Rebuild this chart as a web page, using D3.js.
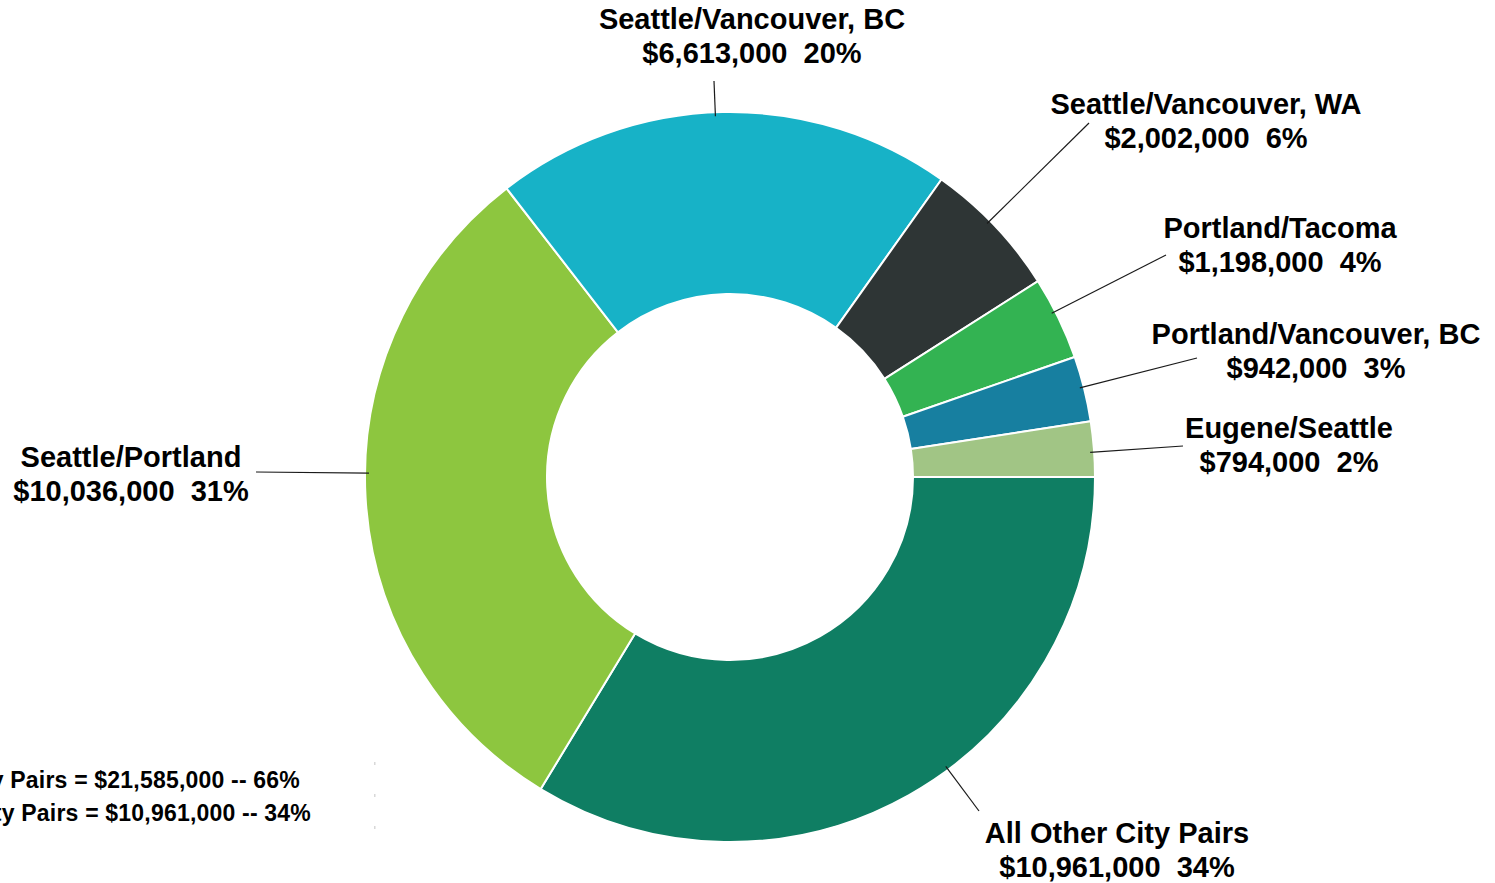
<!DOCTYPE html>
<html>
<head>
<meta charset="utf-8">
<script src="https://cdn.jsdelivr.net/npm/d3@7"></script>
<style>
  body { margin: 0; background: #fff; }
  svg { display: block; }
  text { font-family: "Liberation Sans", Arial, sans-serif; font-weight: bold; fill: #000; }
</style>
</head>
<body>
<div id="chart"></div>
<script>
const width = 1495;
const height = 883;

// data
const categories = [
    'All Other City Pairs',
    'Seattle/Portland',
    'Seattle/Vancouver, BC',
    'Seattle/Vancouver, WA',
    'Portland/Tacoma',
    'Portland/Vancouver, BC',
    'Eugene/Seattle'
];
const values = [10961000, 10036000, 6613000, 2002000, 1198000, 942000, 794000];
const colors = ['#0f7e63', '#8dc63f', '#17b2c7', '#2e3535', '#33b352', '#177fa0', '#a1c585'];
const summaryNames = ['Top 6 City Pairs', 'All Other City Pairs'];

// label placement (center x, first baseline, leader end point)
const labelPos = [
    { x: 1117, y: 843, ex: 979, ey: 811 },
    { x: 131, y: 467, ex: 256, ey: 472 },
    { x: 752, y: 29, ex: 714, ey: 81 },
    { x: 1206, y: 114, ex: 1089, ey: 123 },
    { x: 1280, y: 238, ex: 1166, ey: 255 },
    { x: 1316, y: 344, ex: 1197, ey: 358 },
    { x: 1289, y: 438, ex: 1183, ey: 446 }
];

const center = { x: 730, y: 477 };
const outerR = 365;
const innerR = 183;
const lineGap = 34;

const total = d3.sum(values);
const fmtMoney = d3.format('$,');
const pct = v => Math.round(v / total * 100) + '%';

const rows = categories.map((c, i) => ({ name: c, value: values[i], color: colors[i], pos: labelPos[i] }));

const svg = d3.select('#chart')
    .append('svg')
    .attr('width', width)
    .attr('height', height);

const pie = d3.pie()
    .sort(null)
    .value(d => d.value)
    .startAngle(Math.PI / 2)
    .endAngle(Math.PI / 2 + 2 * Math.PI);

const arc = d3.arc()
    .innerRadius(innerR)
    .outerRadius(outerR);

const g = svg.append('g')
    .attr('transform', `translate(${center.x},${center.y})`);

// slices
g.selectAll('.slice')
    .data(pie(rows))
    .enter()
    .append('path')
    .attr('class', 'slice')
    .attr('d', arc)
    .attr('fill', d => d.data.color)
    .attr('stroke', '#fff')
    .attr('stroke-width', 2)
    .attr('stroke-linejoin', 'round');

// leader lines, pointing at the ring centre
svg.append('g')
    .selectAll('line')
    .data(rows)
    .enter()
    .append('line')
    .attr('x1', d => {
        const dx = d.pos.ex - center.x, dy = d.pos.ey - center.y;
        return center.x + dx / Math.hypot(dx, dy) * (outerR - 4);
    })
    .attr('y1', d => {
        const dx = d.pos.ex - center.x, dy = d.pos.ey - center.y;
        return center.y + dy / Math.hypot(dx, dy) * (outerR - 4);
    })
    .attr('x2', d => d.pos.ex)
    .attr('y2', d => d.pos.ey)
    .attr('stroke', '#1a1a1a')
    .attr('stroke-width', 1.2);

// labels
const labels = svg.append('g')
    .selectAll('text')
    .data(rows)
    .enter()
    .append('text')
    .attr('text-anchor', 'middle')
    .style('font-size', '29px');

labels.append('tspan')
    .attr('x', d => d.pos.x)
    .attr('y', d => d.pos.y)
    .text(d => d.name);

labels.append('tspan')
    .attr('x', d => d.pos.x)
    .attr('y', d => d.pos.y + lineGap)
    .text(d => fmtMoney(d.value) + '\u00a0\u00a0' + pct(d.value));

// summary box (bottom left, partly off the page)
const topTotal = d3.sum(values.slice(1));
const otherTotal = values[0];
const summary = [
    { text: `${summaryNames[0]} = ${fmtMoney(topTotal)} -- ${pct(topTotal)}`, x: 300, y: 788 },
    { text: `${summaryNames[1]} = ${fmtMoney(otherTotal)} -- ${pct(otherTotal)}`, x: 311, y: 821 }
];

svg.append('g')
    .selectAll('text')
    .data(summary)
    .enter()
    .append('text')
    .attr('x', d => d.x)
    .attr('y', d => d.y)
    .attr('text-anchor', 'end')
    .style('font-size', '23px')
    .style('letter-spacing', '0.2px')
    .text(d => d.text);

// faint text box handles
svg.append('g')
    .selectAll('rect')
    .data([763, 795, 827])
    .enter()
    .append('rect')
    .attr('x', 374)
    .attr('y', d => d - 1)
    .attr('width', 1.5)
    .attr('height', 3)
    .attr('fill', '#d8d8d8');
</script>
</body>
</html>
